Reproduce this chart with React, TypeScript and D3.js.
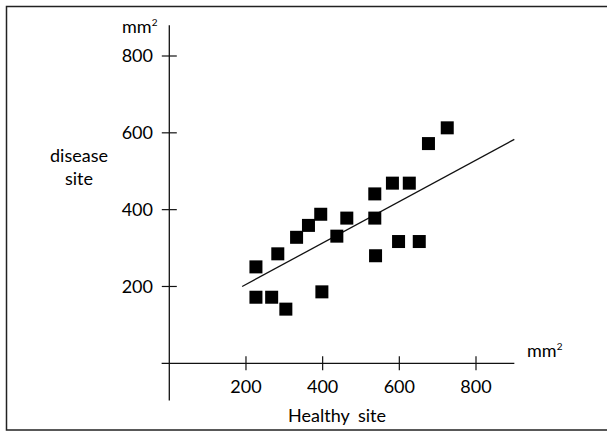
import React, { useRef, useEffect } from 'react';
import * as d3 from 'd3';

// healthy site (x) vs disease site (y), mm²
const healthy = [226, 226, 267, 283, 304, 332, 363, 395, 398, 437, 463, 536, 536, 538, 582, 598, 626, 652, 676, 725];
const disease = [251, 172, 172, 285, 141, 328, 359, 388, 186, 331, 378, 441, 378, 280, 469, 317, 469, 317, 572, 613];

// fitted line end points
const fitX = [190, 900];
const fitY = [200, 583];

const xTicks = [200, 400, 600, 800];
const yTicks = [200, 400, 600, 800];

const App = () => {
  const svgRef = useRef<SVGSVGElement>(null);

  useEffect(() => {
    const root = d3.select(svgRef.current);
    root.selectAll('*').remove();

    const width = 607;
    const height = 432;
    const font = 'Lato, "Open Sans", sans-serif';
    const fs = '18px';

    root.attr('width', width).attr('height', height);

    // frame
    root
      .append('rect')
      .attr('x', 6.5)
      .attr('y', 6.5)
      .attr('width', 620)
      .attr('height', 423.5)
      .attr('fill', 'none')
      .attr('stroke', '#222')
      .attr('stroke-width', 1.5);

    const x = d3.scaleLinear().domain([0, 800]).range([169.3, 476]);
    const y = d3.scaleLinear().domain([0, 800]).range([363.3, 56]);

    const g = root.append('g');

    // axes lines
    g.append('line')
      .attr('x1', x(-20)).attr('x2', x(900))
      .attr('y1', y(0)).attr('y2', y(0))
      .attr('stroke', '#111').attr('stroke-width', 1.3);
    g.append('line')
      .attr('x1', x(0)).attr('x2', x(0))
      .attr('y1', y(-97)).attr('y2', y(880))
      .attr('stroke', '#111').attr('stroke-width', 1.3);

    // x ticks
    xTicks.forEach((t) => {
      g.append('line')
        .attr('x1', x(t)).attr('x2', x(t))
        .attr('y1', y(0) - 7).attr('y2', y(0) + 7)
        .attr('stroke', '#111').attr('stroke-width', 1.2);
      g.append('text')
        .attr('x', x(t))
        .attr('y', 393)
        .attr('text-anchor', 'middle')
        .style('font-family', font)
        .style('font-size', fs)
        .text(t);
    });

    // y ticks
    yTicks.forEach((t) => {
      g.append('line')
        .attr('x1', x(0) - 7.5).attr('x2', x(0) + 7.5)
        .attr('y1', y(t)).attr('y2', y(t))
        .attr('stroke', '#111').attr('stroke-width', 1.2);
      g.append('text')
        .attr('x', 153)
        .attr('y', y(t))
        .attr('dy', '0.36em')
        .attr('text-anchor', 'end')
        .style('font-family', font)
        .style('font-size', fs)
        .text(t);
    });

    // fitted line
    g.append('line')
      .attr('x1', x(fitX[0])).attr('y1', y(fitY[0]))
      .attr('x2', x(fitX[1])).attr('y2', y(fitY[1]))
      .attr('stroke', '#111').attr('stroke-width', 1.3);

    // points
    const size = 13;
    g.selectAll('.pt')
      .data(healthy.map((h, i) => [h, disease[i]]))
      .enter()
      .append('rect')
      .attr('x', (d) => x(d[0]) - size / 2)
      .attr('y', (d) => y(d[1]) - size / 2)
      .attr('width', size)
      .attr('height', size)
      .attr('fill', '#000');

    // unit labels
    const unit = (ux: number, uy: number) => {
      const t = g.append('text')
        .attr('x', ux)
        .attr('y', uy)
        .style('font-family', font)
        .style('font-size', fs);
      t.append('tspan').text('mm');
      t.append('tspan').attr('dy', -7).style('font-size', '10px').text('2');
    };
    unit(122, 33);
    unit(527, 357);

    // axis titles
    g.append('text')
      .attr('x', 79).attr('y', 162)
      .attr('text-anchor', 'middle')
      .style('font-family', font).style('font-size', fs)
      .text('disease');
    g.append('text')
      .attr('x', 79).attr('y', 185)
      .attr('text-anchor', 'middle')
      .style('font-family', font).style('font-size', fs)
      .text('site');
    g.append('text')
      .attr('x', 337).attr('y', 422)
      .attr('text-anchor', 'middle')
      .style('font-family', font).style('font-size', fs)
      .style('word-spacing', '4px')
      .text('Healthy site');
  }, []);

  return (
    <svg
      ref={svgRef}
      style={{ position: 'absolute', left: 0, top: 0, background: '#fff' }}
    />
  );
};

export default App;
